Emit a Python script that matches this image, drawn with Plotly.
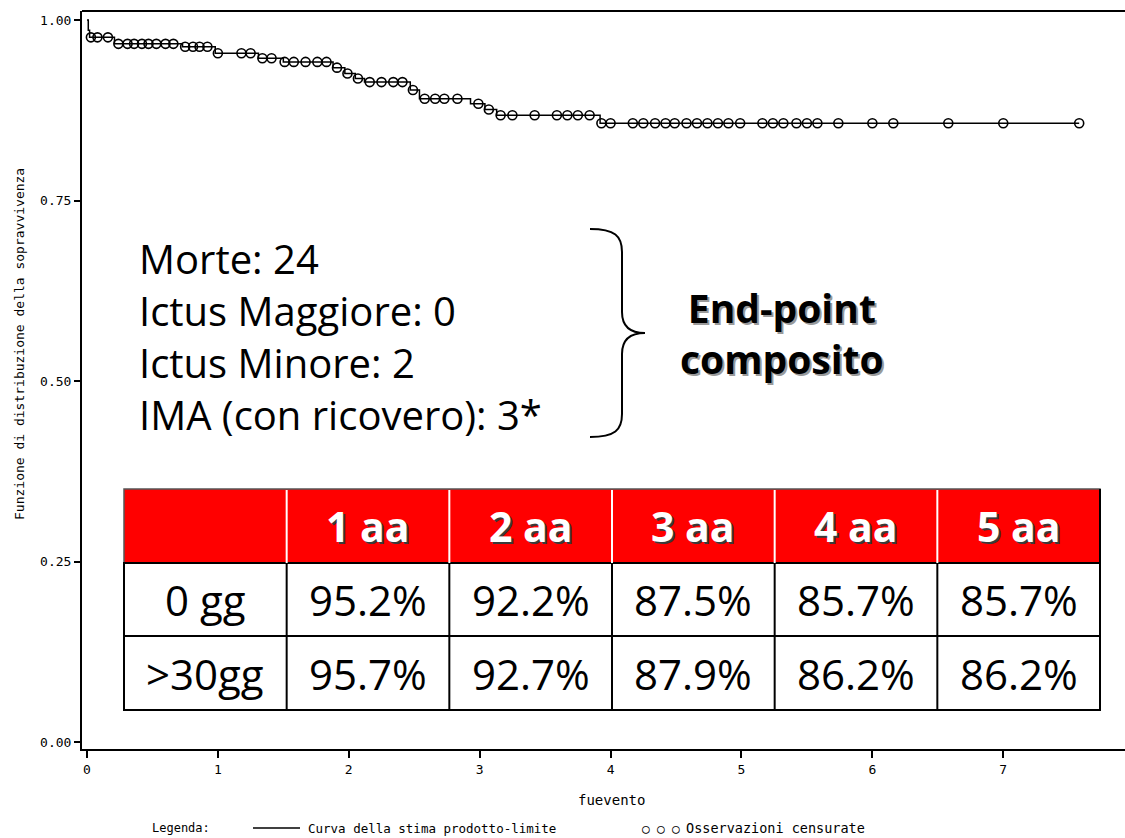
import plotly.graph_objects as go

# Kaplan-Meier estimate: event times (years) and survival after each drop
event_times = [0.01, 0.02, 0.21, 0.73, 0.98, 1.31, 1.50, 1.88, 1.97, 2.05, 2.12,
               2.47, 2.54, 2.93, 3.04, 3.13, 3.92]
surv_after = [0.986, 0.976, 0.967, 0.963, 0.954, 0.947, 0.942, 0.934, 0.926, 0.919,
              0.914, 0.903, 0.891, 0.884, 0.876, 0.868, 0.857]
last_followup = 7.58

# censored observations (years)
censor_times = [0.03, 0.08, 0.16,
                0.24, 0.31, 0.36, 0.42, 0.47, 0.53, 0.60, 0.66,
                0.75, 0.81, 0.86, 0.92,
                1.00, 1.18, 1.25,
                1.34, 1.41,
                1.51, 1.58, 1.67, 1.76, 1.83,
                1.91, 1.99, 2.07,
                2.16, 2.25, 2.34, 2.41,
                2.49,
                2.58, 2.66, 2.73, 2.83,
                2.99, 3.07,
                3.16, 3.25, 3.42, 3.59, 3.67, 3.75, 3.84,
                3.93, 4.00, 4.17, 4.25, 4.34, 4.42, 4.49, 4.58, 4.66, 4.74, 4.82,
                4.90, 4.99, 5.16, 5.24, 5.32, 5.42, 5.50, 5.58, 5.74, 6.00, 6.16,
                6.58, 7.00, 7.58]

y_ticks = [0.0, 0.25, 0.5, 0.75, 1.0]
x_ticks = [0, 1, 2, 3, 4, 5, 6, 7]

# composite end-point counts
endpoint_lines = ["Morte: 24", "Ictus Maggiore: 0", "Ictus Minore: 2", "IMA (con ricovero): 3*"]
endpoint_label = ["End-point", "composito"]

# survival table
col_labels = ["1 aa", "2 aa", "3 aa", "4 aa", "5 aa"]
row_labels = ["0 gg", ">30gg"]
row_0gg = [95.2, 92.2, 87.5, 85.7, 85.7]
row_30gg = [95.7, 92.7, 87.9, 86.2, 86.2]

W, H = 1125, 838
ML, MR, MT, MB = 82, 0, 11, 89


def surv_at(t):
    s = 1.0
    for et, sv in zip(event_times, surv_after):
        if et <= t:
            s = sv
    return s


step_x = [0.0] + event_times + [last_followup]
step_y = [1.0] + surv_after + [surv_after[-1]]
cens_y = [surv_at(t) for t in censor_times]


def px(xp):
    return (xp - ML) / (W - ML - MR)


def py(yp):
    return (H - MB - yp) / (H - MT - MB)


sas_font = dict(family="DejaVu Sans Mono", size=12, color="black")
tick_font = dict(family="DejaVu Sans Mono", size=13, color="black")
comic = "Comic Sans MS, Open Sans, sans-serif"

fig = go.Figure()
fig.add_trace(go.Scatter(x=step_x, y=step_y, mode="lines", line_shape="hv",
                         line=dict(color="black", width=1.5), hoverinfo="skip"))
fig.add_trace(go.Scatter(x=censor_times, y=cens_y, mode="markers",
                         marker=dict(symbol="circle-open", size=9, color="black",
                                     line=dict(width=1.6)), hoverinfo="skip"))

shapes = []
annotations = []

# frame top
shapes.append(dict(type="line", xref="paper", yref="paper", x0=0, x1=1, y0=1, y1=1,
                   line=dict(color="black", width=2)))

# composite end-point text block
annotations.append(dict(xref="paper", yref="paper", x=px(137), y=py(336),
                        xanchor="left", yanchor="middle", align="left", showarrow=False,
                        text="<br>".join(endpoint_lines),
                        font=dict(family=comic, size=40, color="black")))

# brace
brace = (f"M {px(590)},{py(229)} C {px(615)},{py(229)} {px(622)},{py(236)} {px(622)},{py(252)} "
         f"L {px(622)},{py(312)} C {px(622)},{py(326)} {px(630)},{py(333)} {px(645)},{py(333)} "
         f"C {px(630)},{py(333)} {px(622)},{py(340)} {px(622)},{py(354)} "
         f"L {px(622)},{py(414)} C {px(622)},{py(430)} {px(615)},{py(437)} {px(590)},{py(437)}")
shapes.append(dict(type="path", xref="paper", yref="paper", path=brace,
                   line=dict(color="black", width=2)))

for dx, dy, col in ((2, 2, "#9a9a9a"), (0, 0, "black")):
    annotations.append(dict(xref="paper", yref="paper", x=px(782 + dx), y=py(333 + dy),
                            xanchor="center", yanchor="middle", showarrow=False,
                            text="<br>".join(f"<b>{s}</b>" for s in endpoint_label),
                            font=dict(family=comic, size=39, color=col)))

# table
t_left, t_right = 124, 1100
row_edges = [489, 563, 636, 710]
ncol = len(col_labels) + 1
cw = (t_right - t_left) / ncol
col_edges = [t_left + cw * k for k in range(ncol + 1)]

shapes.append(dict(type="rect", xref="paper", yref="paper",
                   x0=px(t_left), x1=px(t_right), y0=py(row_edges[0]), y1=py(row_edges[1]),
                   fillcolor="#ff0000", line=dict(color="#555555", width=1.5), layer="above"))
shapes.append(dict(type="rect", xref="paper", yref="paper",
                   x0=px(t_left), x1=px(t_right), y0=py(row_edges[1]), y1=py(row_edges[3]),
                   fillcolor="white", line=dict(color="black", width=2), layer="above"))
shapes.append(dict(type="line", xref="paper", yref="paper",
                   x0=px(t_left), x1=px(t_right), y0=py(row_edges[2]), y1=py(row_edges[2]),
                   line=dict(color="black", width=2), layer="above"))
for k in range(1, ncol):
    shapes.append(dict(type="line", xref="paper", yref="paper",
                       x0=px(col_edges[k]), x1=px(col_edges[k]),
                       y0=py(row_edges[0] + 1), y1=py(row_edges[1]),
                       line=dict(color="white", width=2), layer="above"))
    shapes.append(dict(type="line", xref="paper", yref="paper",
                       x0=px(col_edges[k]), x1=px(col_edges[k]),
                       y0=py(row_edges[1]), y1=py(row_edges[3]),
                       line=dict(color="black", width=2), layer="above"))
shapes.append(dict(type="line", xref="paper", yref="paper",
                   x0=px(t_right), x1=px(t_right), y0=py(row_edges[0]), y1=py(row_edges[3]),
                   line=dict(color="black", width=2), layer="above"))

for k, lab in enumerate(col_labels):
    cx = (col_edges[k + 1] + col_edges[k + 2]) / 2
    cy = (row_edges[0] + row_edges[1]) / 2
    for dx, dy, col in ((2, 2, "#3a3a3a"), (0, 0, "white")):
        annotations.append(dict(xref="paper", yref="paper", x=px(cx + dx), y=py(cy + dy),
                                xanchor="center", yanchor="middle", showarrow=False,
                                text=f"<b>{lab}</b>",
                                font=dict(family=comic, size=41, color=col)))

for r, (lab, vals) in enumerate(zip(row_labels, [row_0gg, row_30gg])):
    cy = (row_edges[r + 1] + row_edges[r + 2]) / 2
    cells = [lab] + [f"{v:.1f}%" for v in vals]
    for k, txt in enumerate(cells):
        cx = (col_edges[k] + col_edges[k + 1]) / 2
        annotations.append(dict(xref="paper", yref="paper", x=px(cx), y=py(cy),
                                xanchor="center", yanchor="middle", showarrow=False,
                                text=txt, font=dict(family=comic, size=42, color="black")))

# axis titles
annotations.append(dict(xref="paper", yref="paper", x=px(20), y=py(344), textangle=-90,
                        xanchor="center", yanchor="middle", showarrow=False,
                        text="Funzione di distribuzione della sopravvivenza",
                        font=dict(family="DejaVu Sans Mono", size=13, color="black")))
annotations.append(dict(xref="paper", yref="paper", x=px(611), y=py(800),
                        xanchor="center", yanchor="middle", showarrow=False,
                        text="fuevento", font=dict(family="DejaVu Sans Mono", size=14, color="black")))

# legend row
annotations.append(dict(xref="paper", yref="paper", x=px(150), y=py(828),
                        xanchor="left", yanchor="middle", showarrow=False,
                        text="Legenda:", font=sas_font))
shapes.append(dict(type="line", xref="paper", yref="paper", x0=px(253), x1=px(300),
                   y0=py(828), y1=py(828), line=dict(color="black", width=1.5)))
annotations.append(dict(xref="paper", yref="paper", x=px(306), y=py(828),
                        xanchor="left", yanchor="middle", showarrow=False,
                        text="Curva della stima prodotto-limite",
                        font=dict(family="DejaVu Sans Mono", size=12.5, color="black")))
annotations.append(dict(xref="paper", yref="paper", x=px(640), y=py(828),
                        xanchor="left", yanchor="middle", showarrow=False,
                        text="○ ○ ○",
                        font=dict(family="DejaVu Sans Mono", size=12.5, color="black")))
annotations.append(dict(xref="paper", yref="paper", x=px(684), y=py(828),
                        xanchor="left", yanchor="middle", showarrow=False,
                        text="Osservazioni censurate",
                        font=dict(family="DejaVu Sans Mono", size=13.5, color="black")))

fig.update_layout(
    width=W, height=H,
    margin=dict(l=ML, r=MR, t=MT, b=MB),
    paper_bgcolor="white", plot_bgcolor="white",
    showlegend=False,
    shapes=shapes, annotations=annotations,
    xaxis=dict(range=[-0.038, 7.93], tickvals=x_ticks, ticks="outside", ticklen=7,
               tickwidth=1.5, tickcolor="black", showline=True, linecolor="black",
               linewidth=2, showgrid=False, zeroline=False, tickfont=tick_font),
    yaxis=dict(range=[-0.0097, 1.0125], tickvals=y_ticks, tickformat=".2f",
               ticks="outside", ticklen=6, tickwidth=1.5, tickcolor="black",
               showline=True, linecolor="black", linewidth=2, showgrid=False,
               zeroline=False, tickfont=tick_font),
)

fig.write_html("out.html")
